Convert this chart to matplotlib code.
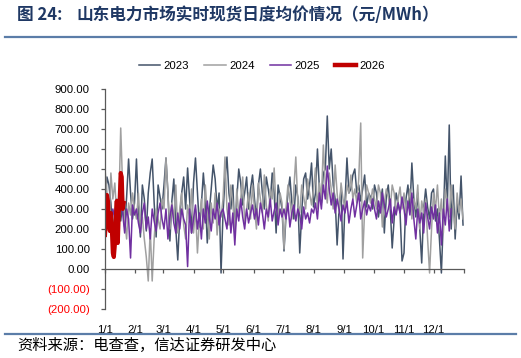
import numpy as np
import matplotlib
matplotlib.use("Agg")
import matplotlib.pyplot as plt
from matplotlib.lines import Line2D
from matplotlib.ticker import FuncFormatter

plt.rcParams["font.family"] = ["Liberation Sans", "DejaVu Sans"]
CJK = ["Noto Sans CJK SC", "DejaVu Sans"]

p2023 = [
    300, 460, 420, 330, 160, 280, 350, 300, 240, 330, 210, 360, 550, 380, 250, 330,
    550, 300, 160, 420, 350, 190, 380, 480, 550, 330, 160, 420, 360, 300,
    420, 555, 380, 140, 340, 450, 200, 45, 260, 380, 460, 300, 505, 350, 180,
    430, 555, 380, 210, 320, 480, 350, 130, 280, 400, 520, 450, 300, 380, -20,
    280, 450, 560, 380, 300, 420, 170, 350, 500, 430, 320, 380, 460, 300, 400, 470,
    350, 250, 420, 500, 380, 300, 460, 400, 330, 480, 380, 180, 420, 360, 300,
    90, 260, 380, 460, 330, 250, 420, 360, 80, 280, 450, 480, 350, 420, 530,
    310, 380, 600, 400, 330, 480, 500, 765, 500, 600, 420, 350, 120, 300, 400, 50,
    330, 555, 380, 400, 470, 500, 380, 420, 340, 400, 470, 310, 380, 360, 300,
    420, 380, 260, 330, 400, 180, 360, 420, 300, 105, 250, 380, 330, 280, 40,
    80, 350, 420, 300, 530, 350, 260, 380, 200, 30, 300, 400, 310, 250, 380,
    400, 240, 300, 150, -20, 250, 565, 300, 720, 200, 420, 150, 330, 250, 465, 220,
]
p2024 = [
    500, 380, 200, 480, 350, 430, 260, 300, 705, 400, 250, 150, 330, 270, 380, 300,
    250, 380, 200, 260, 150, 60, -60, 200, -60, 150, 300, 250, 200, 350,
    300, 555, 380, 200, 330, 250, 420, 180, 300, 380, 220, 150, 320, 250, 400,
    180, 300, 80, 250, 350, 200, 420, 280, 150, 330, 230, 380, 170, 300, 260,
    350, 560, 300, 220, 420, 330, 180, 400, 270, 350, 460, 230, 300, 380, 250, 420,
    300, 200, 430, 350, 280, 470, 320, 240, 400, 350, 505, 300, 260, 380, 330,
    100, 300, 420, 350, 250, 400, 560, 330, 280, 420, 360, 300, 450, 380, 320,
    400, 505, 300, 430, 350, 620, 420, 330, 480, 400, 300, 520, 380, 280, 430, 350,
    300, 420, 380, 470, 350, 400, 330, 450, 730, 55, 300, 420, 380, 330, 400,
    350, 300, 420, 380, 210, 330, 400, 360, 300, 420, 380, 280, 350, 410, 300,
    380, 280, 330, 400, 250, 350, 300, 420, 200, 340, 280, 350, 150, -20, 200,
    380, 300, 420, 250, 350, 180, 400, 330, 260, 420, 300, 200, 380, 280, 350, 250,
]
p2025 = [
    240, 320, 280, 200, 300, 250, 330, 220, 350, 280, 180, 300, 250, 55, 320, 270,
    300, 230, 180, 280, 330, 200, 260, 150, 300, 240, 190, 280, 330, 250,
    200, 300, 150, 260, 320, 230, 180, 280, 200, 300, 250, 220, 12, 300, 180,
    250, 320, 200, 280, 150, 300, 230, 340, 260, 190, 300, 250, 330, 220, 280,
    300, 250, 200, 330, 180, 280, 120, 300, 240, 350, 260, 200, 300, 230, 280, 320,
    250, 300, 220, 330, 280, 200, 300, 260, 350, 240, 290, 330, 220, 300, 260,
    300, 250, 330, 210, 280, 320, 240, 300, 270, 200, 310, 250, 280, 230, 300,
    280, 330, 250, 380, 300, 420, 350, 515, 400, 320, 380, 280, 350, 300, 240, 320,
    280, 340, 230, 300, 350, 260, 320, 380, 250, 300, 340, 270, 320, 290, 350,
    300, 250, 340, 280, 380, 320, 260, 300, 350, 230, 310, 270, 330, 280, 360,
    300, 220, 340, 270, 380, 250, 150, 300, 230, 280, 180, 330, 260, 200, 310,
    250, 320, 180, 280, 120, 300, 220, 350, 190, 300,
]
# 2026 so far, daily
p2026 = [170, 250, 370, 340, 230, 190, 280, 200, 80, 60,
         120, 250, 340, 130, 280, 350, 480, 460, 300, 330]

month_days = [0, 31, 59, 90, 120, 151, 181, 212, 243, 273, 304, 334, 365]
month_labels = ["1/1", "2/1", "3/1", "4/1", "5/1", "6/1", "7/1", "8/1",
                "9/1", "10/1", "11/1", "12/1", ""]

series = [
    ("2023", p2023, 2, "#44546A", 1.1),
    ("2024", p2024, 2, "#A0A0A0", 1.1),
    ("2025", p2025, 2, "#7030A0", 1.1),
    ("2026", p2026, 1, "#C00000", 3.0),
]

fig = plt.figure(figsize=(5.21, 3.58), dpi=100)
ax = fig.add_axes([0.2015, 0.1369, 0.6891, 0.6145])

handles = []
for name, vals, step, color, lw in series:
    x = np.arange(len(vals)) * step
    ax.plot(x, vals, color=color, lw=lw)
    handles.append(Line2D([], [], color=color, lw=lw if lw < 2 else 3.2, label=name))

ax.set_xlim(0, 365)
ax.set_ylim(-200, 900)
ax.set_yticks(np.arange(-200, 901, 100))


def yfmt(v, pos):
    if v < 0:
        return f"({-v:.2f})"
    return f"{v:.2f}"


ax.yaxis.set_major_formatter(FuncFormatter(yfmt))
for lab, v in zip(ax.get_yticklabels(), ax.get_yticks()):
    lab.set_color("#FF0000" if v < 0 else "black")

ax.set_xticks(month_days)
ax.set_xticklabels(month_labels)

for side in ["top", "right"]:
    ax.spines[side].set_visible(False)
ax.spines["bottom"].set_position(("data", 0))
for side in ["left", "bottom"]:
    ax.spines[side].set_color("#595959")
    ax.spines[side].set_linewidth(0.9)

ax.tick_params(axis="y", direction="out", length=3, width=0.9, color="#595959",
               labelsize=8.2, pad=8)
ax.tick_params(axis="x", direction="out", length=3, width=0.9, color="#595959",
               labelsize=8.2, pad=37)

fig.legend(handles=handles, loc="center", bbox_to_anchor=(0.503, 0.816), ncol=4,
           frameon=False, fontsize=8.2, handlelength=1.9, handletextpad=0.3,
           columnspacing=1.3)

# title, rules and source
fig.text(0.033, 0.958, "图 24:", family=CJK, fontsize=12, fontweight="bold",
         color="#1F3864", va="center")
fig.text(0.146, 0.958, "山东电力市场实时现货日度均价情况（元/MWh）",
         family=CJK, fontsize=12, fontweight="bold", color="#1F3864", va="center")
fig.add_artist(Line2D([0.01, 0.99], [0.8966, 0.8966], color="#5B7DA8", lw=1.6))
fig.add_artist(Line2D([0.01, 0.99], [0.067, 0.067], color="#5B7DA8", lw=1.6))
fig.text(0.034, 0.036, "资料来源：电查查，信达证券研发中心",
         family=CJK, fontsize=11, color="black", va="center", style="italic")

fig.savefig("out.png", dpi=100)
